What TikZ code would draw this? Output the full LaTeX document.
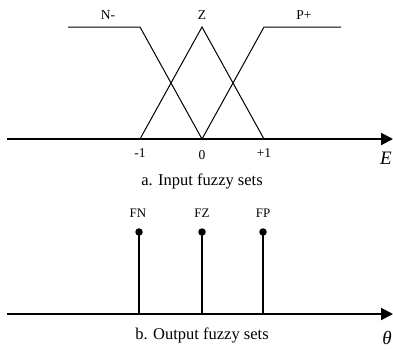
\documentclass[tikz,border=0pt]{standalone}
\usepackage{fontspec}
\setmainfont{Liberation Serif}
\usetikzlibrary{arrows.meta}
\tikzset{
  axisline/.style={line width=2pt,-{Triangle[length=12pt,width=12pt]}},
  mfline/.style={line width=1pt},
  stemline/.style={line width=1.4pt},
  lbl/.style={inner sep=0pt,font=\fontsize{13.5}{15}\selectfont},
  outlbl/.style={inner sep=0pt,font=\fontsize{13}{15}\selectfont},
  captext/.style={inner sep=0pt,font=\fontsize{16.5}{19}\selectfont},
  axlbl/.style={inner sep=0pt,font=\fontsize{19}{22}\selectfont\itshape},
  dotnode/.style={circle,fill=black,inner sep=0pt,minimum size=7.5pt}
}
\begin{document}
\begin{tikzpicture}[x=1pt,y=1pt]
\useasboundingbox (0,0) rectangle (393,-349);
% top axis
\coordinate (a0) at (7,-139);
\coordinate (a1) at (393,-139);
\draw[axisline] (a0) -- (a1);
% membership points
\coordinate (nl) at (68,-27);
\coordinate (nr) at (140,-27);
\coordinate (zp) at (202,-27);
\coordinate (pl) at (264,-27);
\coordinate (pr) at (341,-27);
\coordinate (m1) at (140,-139);
\coordinate (z0) at (202,-139);
\coordinate (p1) at (264,-139);
\draw[mfline] (nl) -- (nr) -- (z0);
\draw[mfline] (m1) -- (zp) -- (p1);
\draw[mfline] (z0) -- (pl) -- (pr);
\node[lbl] (nlab) at (108,-15) {N-};
\node[lbl] (zlab) at (202,-15) {Z};
\node[lbl] (plab) at (304,-15) {P+};
\node[lbl] (tm1) at (140,-153) {-1};
\node[lbl] (t0) at (202,-155) {0};
\node[lbl] (tp1) at (264,-153) {+1};
\node[axlbl] (E) at (386,-158) {E};
\node[captext] (capa) at (202,-181) {a. Input fuzzy sets};
% bottom axis
\coordinate (b0) at (7,-314);
\coordinate (b1) at (393,-314);
\draw[axisline] (b0) -- (b1);
\node[dotnode] (dn) at (139,-232) {};
\node[dotnode] (dz) at (202,-232) {};
\node[dotnode] (dp) at (263,-232) {};
\coordinate (sn) at (139,-314);
\coordinate (sz) at (202,-314);
\coordinate (sp) at (263,-314);
\draw[stemline] (dn.center) -- (sn);
\draw[stemline] (dz.center) -- (sz);
\draw[stemline] (dp.center) -- (sp);
\node[outlbl] (fn) at (138,-213) {FN};
\node[outlbl] (fz) at (202,-213) {FZ};
\node[outlbl] (fp) at (263,-213) {FP};
\node[axlbl] (th) at (387,-338) {θ};
\node[captext] (capb) at (202,-335) {b. Output fuzzy sets};
\end{tikzpicture}
\end{document}
